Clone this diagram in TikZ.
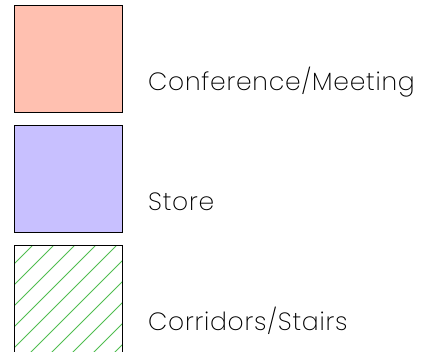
\documentclass[tikz,border=0pt]{standalone}
\usepackage{fontspec}
\setmainfont{Poppins}[UprightFont=* ExtraLight, LetterSpace=3]
\definecolor{confpink}{RGB}{255,192,176}
\definecolor{storeblue}{RGB}{200,192,255}
\definecolor{hatchgreen}{RGB}{80,190,80}
\begin{document}
\begin{tikzpicture}[x=1pt,y=-1pt,
  swatch/.style={draw=black,line width=1pt},
  lbl/.style={anchor=base west,inner sep=0pt,font=\fontsize{25}{25}\selectfont,text=black}]
\useasboundingbox (0,0) rectangle (421,352);
\clip (0,0) rectangle (421,352);
\fill[white] (0,0) rectangle (421,352);
% swatches
\path[swatch,fill=confpink] (14,6) rectangle (122,113);
\path[swatch,fill=storeblue] (14,126) rectangle (122,233);
\begin{scope}
  \clip (14,246) rectangle (122,360);
  \foreach \k in {0,...,12} {
    \draw[hatchgreen,line width=0.9pt] ({32+21*\k},246) -- ++(-130,130);
  }
\end{scope}
\path[swatch] (14,362) -- (14,246) -- (122,246) -- (122,362);
% labels
\node[lbl] (conf) at (148,91) {Conference/Meeting};
\node[lbl] (store) at (148,211) {Store};
\node[lbl] (corr) at (148,331) {Corridors/Stairs};
\end{tikzpicture}
\end{document}
